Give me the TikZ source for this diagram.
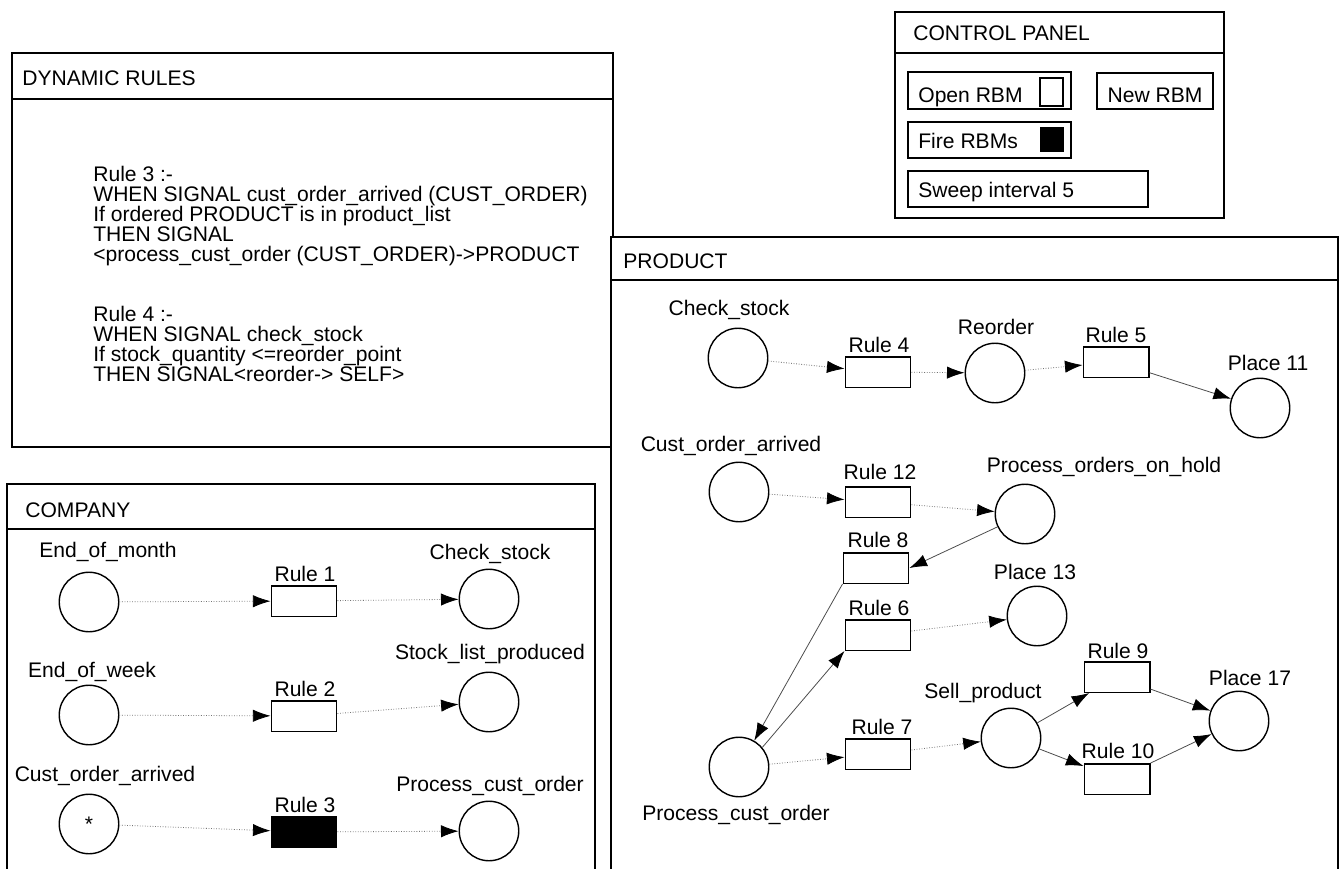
\documentclass[tikz,border=0pt]{standalone}
\usepackage{fontspec}
\setmainfont{Liberation Sans}
\usetikzlibrary{arrows.meta}
\tikzset{
  place/.style={circle,draw,line width=0.8pt,minimum size=1.19cm,inner sep=0pt},
  trans/.style={rectangle,draw,line width=0.85pt,minimum width=1.31cm,minimum height=0.61cm,inner sep=0pt},
  arcd/.style={-{Latex[length=10pt,width=7pt,color=black]},black!55,line width=0.45pt,densely dotted},
  arcs/.style={-{Latex[length=10pt,width=7pt,color=black]},black!70,line width=0.45pt},
  panel/.style={line width=0.9pt,fill=white},
  btn/.style={draw,line width=0.7pt},
  lbl/.style={inner sep=0pt}
}

\begin{document}
\begin{tikzpicture}[x=0.02cm,y=-0.02cm,font=\fontsize{12}{11.34}\selectfont]
  \useasboundingbox (0,0) rectangle (1343,869);
  \clip (0,0) rectangle (1343,869);

  % control panel
  \draw[panel] (895,12) rectangle (1224,218);
  \draw[line width=0.9pt] (895,53) -- (1224,53);
  \node[lbl,anchor=base west] (cptitle) at (913,40) {CONTROL PANEL};
  \draw[btn] (908,72) rectangle (1071,109);
  \draw[btn] (1040,78) rectangle (1063,106);
  \node[lbl,anchor=base west] (openrbm) at (918,102) {Open RBM};
  \draw[btn] (1097,73) rectangle (1213,109);
  \node[lbl,anchor=base] (newrbm) at (1155,102) {New RBM};
  \draw[btn] (908,122) rectangle (1071,158);
  \fill (1040,127) rectangle (1064,152);
  \node[lbl,anchor=base west] (firerbm) at (918,148) {Fire RBMs};
  \draw[btn] (908,171) rectangle (1148,207);
  \node[lbl,anchor=base west] (sweep) at (918,197) {Sweep interval 5};

  % dynamic rules
  \draw[panel] (12,53) rectangle (613,447);
  \draw[line width=0.9pt] (12,99) -- (613,99);
  \node[lbl,anchor=base west] (drtitle) at (22,85) {DYNAMIC RULES};
  \node[lbl,anchor=base west,align=left] (rulethree) at (93,261)
    {Rule 3 :-\\WHEN SIGNAL cust\_order\_arrived (CUST\_ORDER)\\If ordered PRODUCT is in product\_list\\THEN SIGNAL\\<process\_cust\_order (CUST\_ORDER)->PRODUCT};
  \node[lbl,anchor=base west,align=left] (rulefour) at (93,381)
    {Rule 4 :-\\WHEN SIGNAL check\_stock\\If stock\_quantity <=reorder\_point\\THEN SIGNAL<reorder-> SELF>};

  % company
  \draw[panel] (7,484) rectangle (595,900);
  \draw[line width=0.9pt] (7,529) -- (595,529);
  \node[lbl,anchor=base west] (cotitle) at (25,517) {COMPANY};
  \node[place] (eom) at (89,602) {};
  \node[place] (eow) at (89,715) {};
  \node[place] (coa) at (89,824) {*};
  \node[trans] (r1) at (304,601) {};
  \node[trans] (r2) at (304,716) {};
  \node[trans,fill=black] (r3) at (304,832) {};
  \node[place] (cs) at (489,599) {};
  \node[place] (slp) at (489,702) {};
  \node[place] (pco) at (489,831) {};
  \node[lbl] (leom) at (108,552) {End\_of\_month};
  \node[lbl] (leow) at (92,672) {End\_of\_week};
  \node[lbl] (lcoa) at (105,776) {Cust\_order\_arrived};
  \node[lbl] (lr1) at (305,574) {Rule 1};
  \node[lbl] (lr2) at (305,689) {Rule 2};
  \node[lbl] (lr3) at (305,805) {Rule 3};
  \node[lbl] (lcs) at (490,554) {Check\_stock};
  \node[lbl] (lslp) at (490,654) {Stock\_list\_produced};
  \node[lbl] (lpco) at (490,786) {Process\_cust\_order};
  \draw[arcd] (eom) -- (r1);
  \draw[arcd] (r1) -- (cs);
  \draw[arcd] (eow) -- (r2);
  \draw[arcd] (r2) -- (slp);
  \draw[arcd] (coa) -- (r3);
  \draw[arcd] (r3) -- (pco);

  % product
  \draw[panel] (611,237) rectangle (1338,900);
  \draw[line width=0.9pt] (611,280) -- (1338,280);
  \node[lbl,anchor=base west] (prtitle) at (623,268) {PRODUCT};
  \node[place] (pcs) at (738,358) {};
  \node[place] (ro) at (995,373) {};
  \node[place] (p11) at (1260,408) {};
  \node[place] (pcoa) at (739,492) {};
  \node[place] (poh) at (1025,514) {};
  \node[place] (p13) at (1037,616) {};
  \node[place] (sp) at (1011,738) {};
  \node[place] (p17) at (1239,721) {};
  \node[place] (ppco) at (739,767) {};
  \node[trans] (r4) at (878,372) {};
  \node[trans] (r5) at (1116,362) {};
  \node[trans] (r12) at (878,502) {};
  \node[trans] (r8) at (876,568) {};
  \node[trans] (r6) at (878,635) {};
  \node[trans] (r7) at (878,754) {};
  \node[trans] (r9) at (1117,677) {};
  \node[trans] (r10) at (1117,779) {};
  \node[lbl] (lpcs) at (729,310) {Check\_stock};
  \node[lbl] (lro) at (996,327) {Reorder};
  \node[lbl] (lp11) at (1268,363) {Place 11};
  \node[lbl] (lpcoa) at (731,446) {Cust\_order\_arrived};
  \node[lbl] (lpoh) at (1104,467) {Process\_orders\_on\_hold};
  \node[lbl] (lp13) at (1035,572) {Place 13};
  \node[lbl] (lsp) at (983,693) {Sell\_product};
  \node[lbl] (lp17) at (1250,678) {Place 17};
  \node[lbl] (lppco) at (736,815) {Process\_cust\_order};
  \node[lbl] (lr4) at (879,345) {Rule 4};
  \node[lbl] (lr5) at (1116,335) {Rule 5};
  \node[lbl] (lr12) at (880,472) {Rule 12};
  \node[lbl] (lr8) at (878,540) {Rule 8};
  \node[lbl] (lr6) at (879,608) {Rule 6};
  \node[lbl] (lr7) at (882,727) {Rule 7};
  \node[lbl] (lr9) at (1118,651) {Rule 9};
  \node[lbl] (lr10) at (1118,751) {Rule 10};
  \draw[arcd] (pcs) -- (r4);
  \draw[arcd] (r4) -- (ro);
  \draw[arcd] (ro) -- (r5);
  \draw[arcs] (r5) -- (p11);
  \draw[arcd] (pcoa) -- (r12);
  \draw[arcd] (r12) -- (poh);
  \draw[arcs] (poh) -- (r8.east);
  \draw[arcs] (r8.south west) -- (ppco.60);
  \draw[arcs] (ppco.40) -- (r6.south west);
  \draw[arcd] (r6) -- (p13);
  \draw[arcd] (ppco) -- (r7);
  \draw[arcd] (r7) -- (sp);
  \draw[arcs] (sp) -- (r9);
  \draw[arcs] (sp) -- (r10);
  \draw[arcs] (r9) -- (p17);
  \draw[arcs] (r10) -- (p17);
\end{tikzpicture}
\end{document}
